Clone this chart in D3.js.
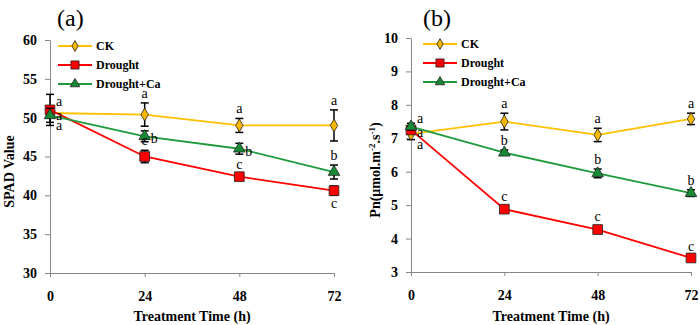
<!DOCTYPE html>
<html>
<head>
<meta charset="utf-8">
<script src="https://cdn.jsdelivr.net/npm/d3@7"></script>
<style>
  body { margin: 0; background: #fff; }
  svg { display: block; font-family: "Liberation Serif", "Times New Roman", serif; }
  .axis path, .axis line { stroke: #868686; }
  .axis text { font-family: "Liberation Serif", "Times New Roman", serif; font-weight: bold; font-size: 14px; fill: #000; }
</style>
</head>
<body>
<svg width="700" height="325"></svg>
<script>
// sampling times (h)
var hours = [0, 24, 48, 72];
var seriesNames = ["CK", "Drought", "Drought+Ca"];

// (a) SPAD value
var spadCK = [50.6, 50.4, 49.0, 49.0];
var spadCKErr = [0.3, 1.5, 0.9, 2.0];
var spadDrought = [51.0, 45.0, 42.4, 40.6];
var spadDroughtErr = [2.0, 0.8, 0.3, 0.6];
var spadCa = [50.3, 47.6, 46.0, 43.0];
var spadCaErr = [0.9, 0.7, 0.7, 0.9];
var spadTicks = [30, 35, 40, 45, 50, 55, 60];

// (b) net photosynthetic rate
var pnCK = [7.13, 7.5, 7.1, 7.58];
var pnCKErr = [0.17, 0.25, 0.2, 0.17];
var pnDrought = [7.25, 4.88, 4.27, 3.42];
var pnDroughtErr = [0.1, 0.08, 0.12, 0.05];
var pnCa = [7.35, 6.57, 5.95, 5.36];
var pnCaErr = [0.1, 0.08, 0.13, 0.1];
var pnTicks = [3, 4, 5, 6, 7, 8, 9, 10];

// significance letters and where they sit around the point
var spadLetters = [["a", "a", "a", "a"], ["a", "c", "c", "c"], ["a", "b", "b", "b"]];
var spadLetterPos = [["e", "n", "n", "n"], ["ne", "n", "n", "s"], ["se", "e", "e", "n"]];
var pnLetters = [["a", "a", "a", "a"], ["a", "c", "c", "c"], ["a", "b", "b", "b"]];
var pnLetterPos = [["se", "n", "n", "n"], ["e", "n", "n", "n"], ["ne", "n", "n", "n"]];

var colors = ["#FFC000", "#FF0000", "#1E9A3C"];
var fills = ["#F5B800", "#FF0000", "#178A36"];
var symbols = [d3.symbolDiamond, d3.symbolSquare, d3.symbolTriangle];
var symSizes = [48, 95, 58];

var svg = d3.select("svg");

function drawPanel(cfg) {
  var x = d3.scaleLinear().domain([0, 72]).range([cfg.x0, cfg.x1]);
  var y = d3.scaleLinear().domain(cfg.yDomain).range([cfg.y1, cfg.y0]);
  var g = svg.append("g");

  g.append("g")
    .attr("class", "axis")
    .attr("transform", "translate(0," + cfg.y1 + ")")
    .call(d3.axisBottom(x).tickValues(hours).tickFormat(d3.format("d"))
      .tickSize(4).tickSizeOuter(0).tickPadding(14));

  g.append("g")
    .attr("class", "axis")
    .attr("transform", "translate(" + cfg.x0 + ",0)")
    .call(d3.axisLeft(y).tickValues(cfg.ticks).tickFormat(d3.format("d"))
      .tickSize(5).tickSizeOuter(0).tickPadding(8));

  g.append("text")
    .attr("x", (cfg.x0 + cfg.x1) / 2)
    .attr("y", 321)
    .attr("text-anchor", "middle")
    .style("font-weight", "bold").style("font-size", "14px")
    .text("Treatment Time (h)");

  var yl = g.append("text")
    .attr("transform", "translate(" + cfg.yLabelX + "," + ((cfg.y0 + cfg.y1) / 2 + 15) + ") rotate(-90)")
    .attr("text-anchor", "middle")
    .style("font-weight", "bold").style("font-size", "14px");
  cfg.yLabel(yl);

  g.append("text")
    .attr("x", cfg.titleX).attr("y", 26)
    .style("font-size", "24px")
    .text(cfg.title);

  var line = d3.line().x(function (d, i) { return x(hours[i]); }).y(function (d) { return y(d); });

  cfg.series.forEach(function (vals, s) {
    g.append("path")
      .datum(vals)
      .attr("fill", "none")
      .attr("stroke", colors[s])
      .attr("stroke-width", 1.8)
      .attr("d", line);
  });

  cfg.series.forEach(function (vals, s) {
    var errs = cfg.errors[s];
    var eb = g.append("g").attr("stroke", "#000").attr("stroke-width", 1.5);
    vals.forEach(function (v, i) {
      var xp = x(hours[i]);
      eb.append("line").attr("x1", xp).attr("x2", xp).attr("y1", y(v - errs[i])).attr("y2", y(v + errs[i]));
      eb.append("line").attr("x1", xp - 4).attr("x2", xp + 4).attr("y1", y(v - errs[i])).attr("y2", y(v - errs[i]));
      eb.append("line").attr("x1", xp - 4).attr("x2", xp + 4).attr("y1", y(v + errs[i])).attr("y2", y(v + errs[i]));
    });

    g.append("g").selectAll("path")
      .data(vals)
      .enter().append("path")
        .attr("transform", function (d, i) { return "translate(" + x(hours[i]) + "," + y(d) + ")"; })
        .attr("d", d3.symbol().type(symbols[s]).size(symSizes[s]))
        .attr("fill", fills[s])
        .attr("stroke", "#222")
        .attr("stroke-width", 0.8);
  });

  // significance letters
  cfg.series.forEach(function (vals, s) {
    vals.forEach(function (v, i) {
      var pos = cfg.letterPos[s][i],
          xp = x(hours[i]),
          top = y(v + cfg.errors[s][i]),
          bot = y(v - cfg.errors[s][i]),
          tx = xp, ty = y(v) + 4, anchor = "middle";
      if (pos === "n") { ty = top - 5; }
      else if (pos === "s") { ty = bot + 13; }
      else {
        tx = xp + 6; anchor = "start";
        if (pos === "ne") ty = y(v) - 4;
        else if (pos === "se") ty = y(v) + 15;
        else ty = y(v) + 7;
      }
      g.append("text")
        .attr("x", tx).attr("y", ty)
        .attr("text-anchor", anchor)
        .style("font-size", "14px")
        .text(cfg.letters[s][i]);
    });
  });

  // legend
  var lg = g.append("g");
  seriesNames.forEach(function (name, s) {
    var ly = cfg.legendY + s * 19;
    lg.append("line")
      .attr("x1", cfg.legendX).attr("x2", cfg.legendX + 34)
      .attr("y1", ly).attr("y2", ly)
      .attr("stroke", colors[s]).attr("stroke-width", 2);
    lg.append("path")
      .attr("transform", "translate(" + (cfg.legendX + 17) + "," + ly + ")")
      .attr("d", d3.symbol().type(symbols[s]).size(symSizes[s] * 0.7))
      .attr("fill", fills[s]).attr("stroke", "#222").attr("stroke-width", 0.8);
    lg.append("text")
      .attr("x", cfg.legendX + 38).attr("y", ly + 4)
      .style("font-weight", "bold").style("font-size", "12px")
      .text(name);
  });
}

drawPanel({
  x0: 50, x1: 334, y0: 40, y1: 273,
  yDomain: [30, 60], ticks: spadTicks,
  series: [spadCK, spadDrought, spadCa],
  errors: [spadCKErr, spadDroughtErr, spadCaErr],
  letters: spadLetters, letterPos: spadLetterPos,
  title: "(a)", titleX: 57,
  yLabelX: 14,
  yLabel: function (t) { t.text("SPAD Value"); },
  legendX: 58, legendY: 46
});

drawPanel({
  x0: 411, x1: 691, y0: 38, y1: 272,
  yDomain: [3, 10], ticks: pnTicks,
  series: [pnCK, pnDrought, pnCa],
  errors: [pnCKErr, pnDroughtErr, pnCaErr],
  letters: pnLetters, letterPos: pnLetterPos,
  title: "(b)", titleX: 423,
  yLabelX: 380,
  yLabel: function (t) {
    t.append("tspan").text("Pn(\u03bcmol.m");
    t.append("tspan").attr("dy", -5).style("font-size", "9px").text("-2");
    t.append("tspan").attr("dy", 5).text(".s");
    t.append("tspan").attr("dy", -5).style("font-size", "9px").text("-1");
    t.append("tspan").attr("dy", 5).text(")");
  },
  legendX: 423, legendY: 44
});
</script>
</body>
</html>
